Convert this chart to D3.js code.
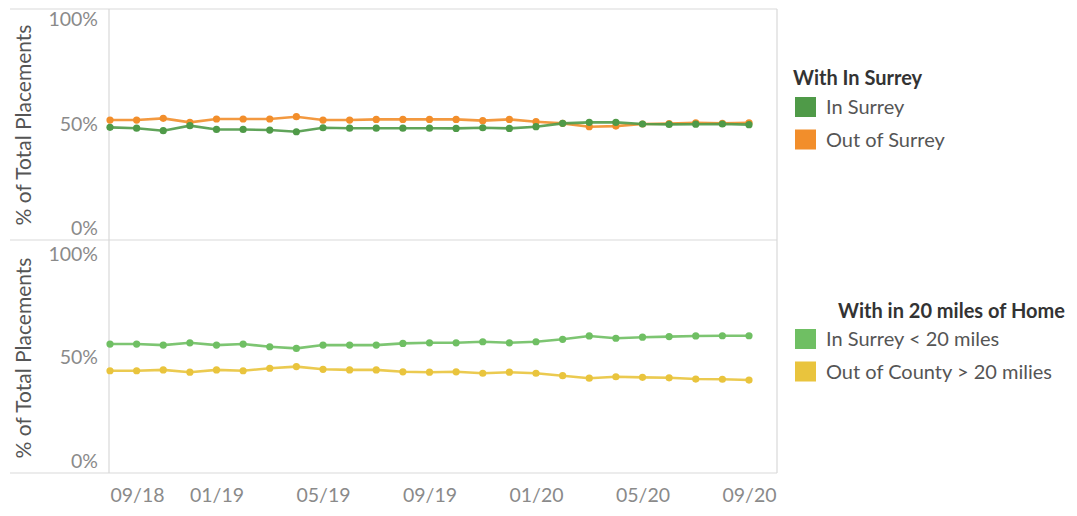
<!DOCTYPE html>
<html>
<head>
<meta charset="utf-8">
<script src="https://cdn.jsdelivr.net/npm/d3@7"></script>
<style>
  html, body { margin: 0; padding: 0; background: #fff; }
  svg { display: block; font-family: Lato, "Open Sans", sans-serif; }
</style>
</head>
<body>
<svg id="chart" width="1077" height="516"></svg>
<script>
const months = ["09/18","10/18","11/18","12/18","01/19","02/19","03/19","04/19","05/19","06/19","07/19","08/19","09/19","10/19","11/19","12/19","01/20","02/20","03/20","04/20","05/20","06/20","07/20","08/20","09/20"];
const tickLabels = ["09/18","01/19","05/19","09/19","01/20","05/20","09/20"];
const yTicks = [0, 50, 100];

const inSurrey  = [48.4,48.0,46.8,49.2,47.4,47.4,47.1,46.3,48.2,48.0,48.0,48.0,48.0,47.9,48.2,47.9,48.7,50.3,50.8,50.8,50.0,49.8,49.9,50.0,49.7];
const outSurrey = [51.9,51.9,52.7,50.8,52.4,52.4,52.4,53.5,51.9,51.9,52.2,52.2,52.2,52.2,51.6,52.2,51.1,50.3,48.7,49.0,50.0,50.2,50.6,50.3,50.6];

const under20 = [56.5,56.5,56.0,57.1,56.0,56.5,55.2,54.4,56.0,56.0,56.0,56.8,57.1,57.1,57.6,57.1,57.6,58.8,60.4,59.3,59.8,60.1,60.4,60.5,60.5];
const over20  = [43.6,43.6,44.0,42.9,44.0,43.6,44.8,45.6,44.3,44.0,44.0,43.1,42.9,43.1,42.4,42.9,42.4,41.2,40.0,40.7,40.4,40.2,39.6,39.5,39.1];

const legend1Title = "With In Surrey";
const legend1Items = ["In Surrey", "Out of Surrey"];
const legend2Title = "With in 20 miles of Home";
const legend2Items = ["In Surrey < 20 miles", "Out of County > 20 milies"];
const yTitle = "% of Total Placements";

const colors = {
  inSurrey: "#4f9a48",
  outSurrey: "#f28e2b",
  under20: "#6fbf63",
  over20: "#e9c43d"
};

const svg = d3.select("#chart");

const fLeft = 109, fRight = 777, fTop = 9, fMid = 240, fBottom = 473;

const x = d3.scalePoint().domain(months).range([110, 749]);
const yTop = d3.scaleLinear().domain([0, 100]).range([228.5, 19.5]);
const yBot = d3.scaleLinear().domain([0, 100]).range([461, 254]);

// frame lines
const frame = svg.append("g").attr("stroke", "#d9d9d9").attr("stroke-width", 1.2).attr("fill", "none");
frame.append("line").attr("x1", 10).attr("x2", fRight).attr("y1", fTop).attr("y2", fTop);
frame.append("line").attr("x1", 10).attr("x2", fRight).attr("y1", fMid).attr("y2", fMid);
frame.append("line").attr("x1", 10).attr("x2", fRight).attr("y1", fBottom).attr("y2", fBottom);
frame.append("line").attr("x1", fLeft).attr("x2", fLeft).attr("y1", fTop).attr("y2", fBottom);
frame.append("line").attr("x1", fRight).attr("x2", fRight).attr("y1", fTop).attr("y2", fBottom);

function yAxis(scale, cy) {
  const g = svg.append("g").attr("transform", `translate(${fLeft - 11},0)`)
    .call(d3.axisLeft(scale).tickValues(yTicks).tickFormat(d => d + "%").tickSize(0).tickPadding(0));
  g.select(".domain").remove();
  g.selectAll("text").attr("fill", "#8a8a8a").style("font-size", "19.5px").style("font-family", "Lato, sans-serif");
  svg.append("text")
    .attr("transform", `translate(24,${cy}) rotate(-90)`)
    .attr("text-anchor", "middle")
    .attr("dy", "0.35em")
    .attr("fill", "#555")
    .style("font-size", "21px")
    .text(yTitle);
}
yAxis(yTop, 125);
yAxis(yBot, 358);

// x axis
const xg = svg.append("g").attr("transform", `translate(0,${fBottom + 15})`)
  .call(d3.axisBottom(x).tickValues(tickLabels).tickSize(0).tickPadding(0));
xg.select(".domain").remove();
xg.selectAll("text").attr("fill", "#8a8a8a").style("font-size", "19.5px").style("font-family", "Lato, sans-serif")
  .attr("dy", "0.71em")
  .attr("text-anchor", (d, i) => i === 0 ? "start" : "middle");

function series(vals, scale, color) {
  const line = d3.line().x((d, i) => x(months[i])).y(d => scale(d));
  svg.append("path").datum(vals).attr("d", line)
    .attr("fill", "none").attr("stroke", color).attr("stroke-width", 2.6).attr("stroke-opacity", 0.9);
  svg.append("g").selectAll("circle").data(vals).join("circle")
    .attr("cx", (d, i) => x(months[i])).attr("cy", d => scale(d)).attr("r", 3.6)
    .attr("fill", color);
}
series(outSurrey, yTop, colors.outSurrey);
series(inSurrey, yTop, colors.inSurrey);
series(over20, yBot, colors.over20);
series(under20, yBot, colors.under20);

function legend(title, items, cols, tx, ty, y0) {
  const g = svg.append("g");
  g.append("text").attr("x", tx).attr("y", ty).attr("dy", "0.35em")
    .attr("fill", "#333").style("font-size", "20px").style("font-weight", "bold").text(title);
  items.forEach((t, i) => {
    const yy = y0 + i * 32.5;
    g.append("rect").attr("x", 795).attr("y", yy - 10).attr("width", 21).attr("height", 20).attr("fill", cols[i]);
    g.append("text").attr("x", 826).attr("y", yy).attr("dy", "0.35em")
      .attr("fill", "#555").style("font-size", "20px").text(t);
  });
}
legend(legend1Title, legend1Items, [colors.inSurrey, colors.outSurrey], 793, 78, 107);
legend(legend2Title, legend2Items, [colors.under20, colors.over20], 838, 311, 339);
</script>
</body>
</html>
